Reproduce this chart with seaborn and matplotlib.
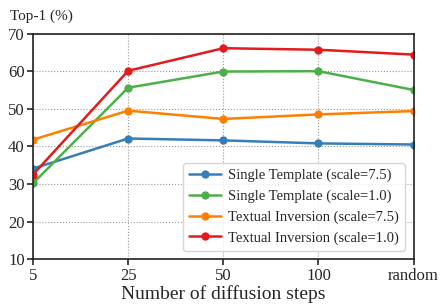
"""plot.py - Top-1 accuracy vs number of diffusion steps"""
import matplotlib
matplotlib.use("Agg")
import matplotlib.pyplot as plt
import seaborn as sns
import pandas as pd

steps = ["5", "25", "50", "100", "random"]
single_75 = [34.1, 42.1, 41.6, 40.8, 40.5]
single_10 = [30.2, 55.6, 59.9, 60.0, 55.0]
textual_75 = [41.8, 49.5, 47.3, 48.5, 49.4]
textual_10 = [32.5, 60.1, 66.1, 65.7, 64.4]

labels = [
    "Single Template (scale=7.5)",
    "Single Template (scale=1.0)",
    "Textual Inversion (scale=7.5)",
    "Textual Inversion (scale=1.0)",
]
colors = ["#377eb8", "#4daf4a", "#ff7f00", "#e41a1c"]

rows = []
for lab, vals in zip(labels, [single_75, single_10, textual_75, textual_10]):
    for s, v in zip(steps, vals):
        rows.append({"steps": s, "top1": v, "method": lab})
df = pd.DataFrame(rows)

sns.set_style("ticks")
plt.rcParams["font.family"] = ["Liberation Serif", "DejaVu Serif"]

fig, ax = plt.subplots(figsize=(4.4, 3.05), dpi=100)
sns.lineplot(data=df, x="steps", y="top1", hue="method", hue_order=labels,
             palette=colors, marker="o", markersize=6, markeredgewidth=0,
             linewidth=1.8, sort=False, ax=ax)

ax.set_xlim(0, 4)
ax.set_ylim(10, 70)
ax.set_yticks(range(10, 71, 10))
ax.grid(True, linestyle=":", color="#999999", linewidth=0.8)
ax.tick_params(labelsize=12, length=4, width=1.2, pad=2)
for sp in ax.spines.values():
    sp.set_linewidth(1.2)
    sp.set_color("#222222")

ax.set_ylabel("")
ax.set_xlabel("Number of diffusion steps", fontsize=14, labelpad=1)
ax.set_title("Top-1 (%)", loc="left", fontsize=11, x=-0.06, pad=10)
ax.legend(loc="lower right", fontsize=10.5, title=None, handlelength=2.2,
          handletextpad=0.5, borderaxespad=0.6)

plt.subplots_adjust(left=0.075, right=0.94, top=0.89, bottom=0.15)
fig.savefig("out.png", dpi=100)
